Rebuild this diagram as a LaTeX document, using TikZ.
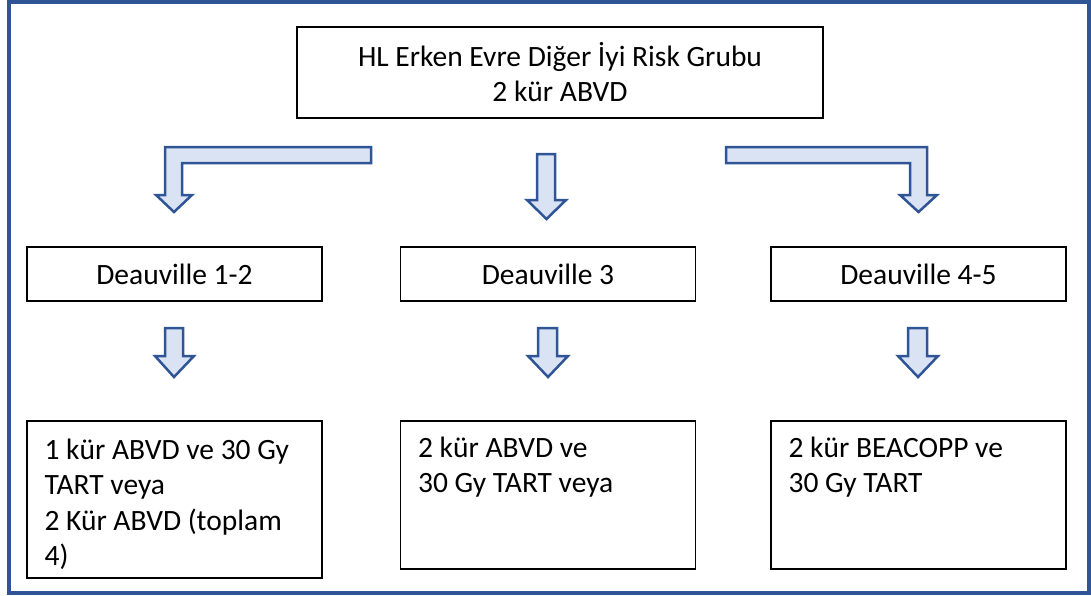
\documentclass[tikz,border=0pt]{standalone}
\usepackage{fontspec}
\setmainfont{Carlito}
\usetikzlibrary{calc}
\definecolor{frameblue}{HTML}{2F5597}
\definecolor{arrowfill}{HTML}{DAE3F3}
\begin{document}
\begin{tikzpicture}[x=1pt,y=-1pt,
  every node/.style={font=\fontsize{29.5}{35}\selectfont},
  box/.style={draw=black,line width=1.3pt,inner sep=0pt,align=center},
  toprow/.style={box,minimum width=526pt,minimum height=91pt},
  midrow/.style={box,minimum width=295pt,minimum height=54pt},
  % base anchor of a multi-line node sits on its last line
  boxtext/.style={anchor=base west,inner sep=0pt,align=left,
    font=\fontsize{29.5}{35.5}\selectfont},
  blockarrow/.style={draw=frameblue,fill=arrowfill,line width=2.5pt,line join=miter}]
\useasboundingbox (0,0) rectangle (1091,595);
% outer frame
\draw[frameblue,line width=3.5pt] (9,1.8) rectangle (1089.2,593);

% boxes
\node[toprow] (top) at (560,72.5) {HL Erken Evre Diğer İyi Risk Grubu\\2 kür ABVD};
\node[midrow] (d12) at (174.5,274) {Deauville 1-2};
\node[midrow] (d3)  at (548,274) {Deauville 3};
\node[midrow] (d45) at (918.5,274) {Deauville 4-5};
\node[box,minimum width=295pt,minimum height=157pt] (r1) at (174.5,499.5) {};
\node[box,minimum width=295pt,minimum height=148pt] (r2) at (548,495) {};
\node[box,minimum width=295pt,minimum height=148pt] (r3) at (918.5,495) {};

% box texts
\node[boxtext] (r1t) at ($(r1.north west)+(18,145.5)$) {1 kür ABVD ve 30 Gy\\TART veya\\2 Kür ABVD (toplam\\4)};
\node[boxtext] (r2t) at ($(r2.north west)+(18,72.5)$) {2 kür ABVD ve\\30 Gy TART veya};
\node[boxtext] (r3t) at ($(r3.north west)+(18,72.5)$) {2 kür BEACOPP ve\\30 Gy TART};

% block arrows from the top box
\draw[blockarrow] (371,147) -- (165,147) -- (165,195) -- (156,195) -- (174,212)
  -- (192,195) -- (182,195) -- (182,163) -- (371,163) -- cycle;
\draw[blockarrow] (537,154) -- (555,154) -- (555,200) -- (566,200) -- (546.5,219)
  -- (527,200) -- (537,200) -- cycle;
\draw[blockarrow] (726,147) -- (927,147) -- (927,195) -- (937,195) -- (918.5,212)
  -- (900,195) -- (910,195) -- (910,163) -- (726,163) -- cycle;

% block arrows from the Deauville boxes
\draw[blockarrow] (165,328) -- (183,328) -- (183,356) -- (194,356) -- (174,377)
  -- (155,356) -- (165,356) -- cycle;
\draw[blockarrow] (538,328) -- (557,328) -- (557,356) -- (568,356) -- (548,377)
  -- (528,356) -- (538,356) -- cycle;
\draw[blockarrow] (908,328) -- (927,328) -- (927,356) -- (938,356) -- (918,377)
  -- (898,356) -- (908,356) -- cycle;
\end{tikzpicture}
\end{document}
